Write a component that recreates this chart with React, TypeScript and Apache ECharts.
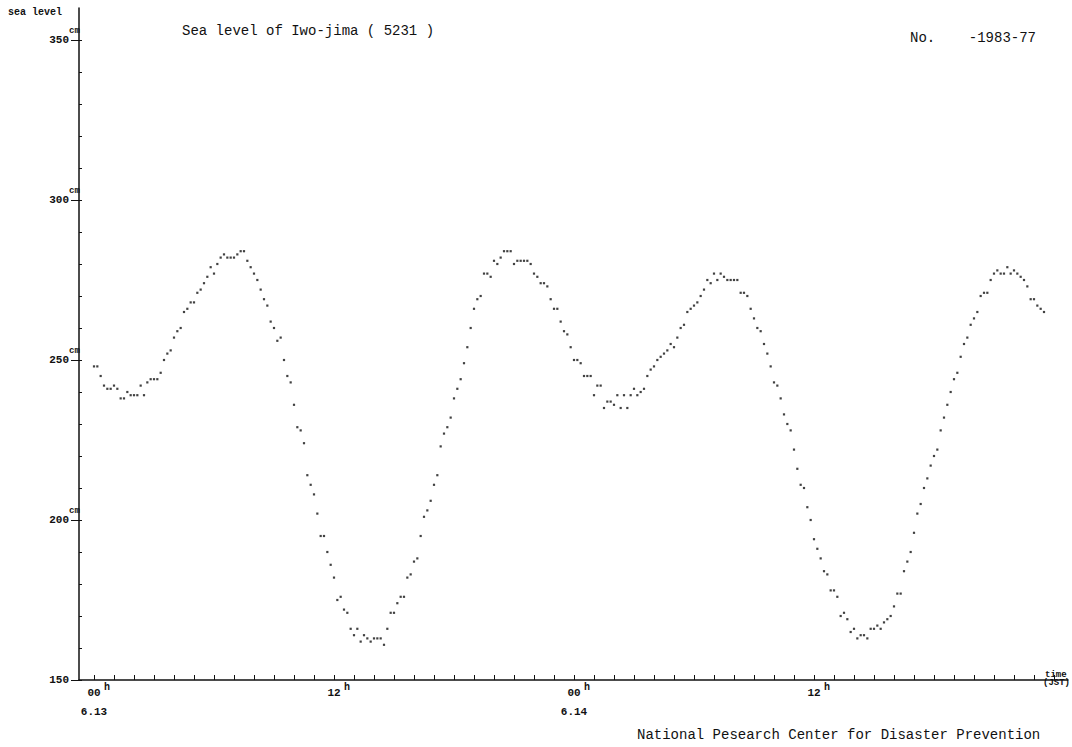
import React, { useEffect, useRef } from "react";
import * as echarts from "echarts";

// sampling step of the record: 10 minutes, expressed in hours
const STEP_HOURS = 1 / 6;

// sea level (cm) at 10-minute steps, 6.13 00h .. 11h50
const day1AM = [
  248, 248, 245, 242, 241, 241, 242, 241, 238, 238, 240, 239, 239, 239, 242, 239, 243, 244, 244, 244, 246, 250, 252, 253,
  257, 259, 260, 265, 266, 268, 268, 271, 272, 274, 276, 279, 277, 280, 282, 283, 282, 282, 282, 283, 284, 284, 281, 279,
  277, 275, 272, 269, 267, 262, 260, 256, 257, 250, 245, 243, 236, 229, 228, 224, 214, 211, 208, 202, 195, 195, 190, 186,
];
// 6.13 12h .. 23h50
const day1PM = [
  182, 175, 176, 172, 171, 166, 164, 166, 162, 164, 163, 162, 163, 163, 163, 161, 166, 171, 171, 174, 176, 176, 182, 183,
  187, 188, 195, 201, 203, 206, 211, 214, 223, 227, 229, 232, 238, 241, 244, 249, 254, 260, 266, 269, 270, 277, 277, 276,
  281, 280, 282, 284, 284, 284, 280, 281, 281, 281, 281, 280, 277, 276, 274, 274, 273, 269, 266, 266, 262, 259, 258, 254,
];
// 6.14 00h .. 11h50
const day2AM = [
  250, 250, 249, 245, 245, 245, 239, 242, 242, 235, 237, 237, 236, 239, 235, 239, 235, 239, 241, 239, 240, 241, 245, 247,
  248, 250, 251, 252, 253, 255, 254, 257, 260, 261, 265, 266, 267, 268, 270, 272, 275, 274, 277, 275, 277, 276, 275, 275,
  275, 275, 271, 271, 270, 266, 263, 260, 259, 255, 252, 248, 243, 242, 238, 233, 230, 228, 222, 216, 211, 210, 204, 200,
];
// 6.14 12h .. 23h30
const day2PM = [
  194, 191, 188, 184, 183, 178, 178, 176, 170, 171, 169, 165, 166, 163, 164, 164, 163, 166, 166, 167, 166, 168, 169, 170,
  173, 177, 177, 184, 187, 190, 196, 202, 205, 210, 213, 217, 220, 222, 228, 232, 236, 240, 244, 246, 251, 255, 257, 261,
  263, 265, 270, 271, 271, 275, 277, 278, 277, 277, 279, 277, 278, 277, 276, 275, 273, 269, 269, 267, 266, 265,
];

const yTickLabels = [150, 200, 250, 300, 350];
const yUnitTicks = [200, 250, 300, 350];
const xLabelHours = [0, 12, 24, 36];
const xLabelMain = ["00", "12", "00", "12"];
const xLabelDate = ["6.13", "", "6.14", ""];
const titleText = "Sea level of Iwo-jima ( 5231 )";
const recordText = "No.    -1983-77";
const creditText = "National Pesearch Center for Disaster Prevention";

export default function App() {
  const ref = useRef<HTMLDivElement>(null);
  useEffect(() => {
    const chart = echarts.init(ref.current!, null, { renderer: "svg" });
    const levels = [...day1AM, ...day1PM, ...day2AM, ...day2PM];
    const data = levels.map((v, i) => [i * STEP_HOURS, v]);
    const mono = "'Liberation Mono', 'DejaVu Sans Mono', monospace";
    const hourTicks: number[] = [];
    for (let h = 0; h <= 48; h++) hourTicks.push(h);
    const cmTicks: number[] = [];
    for (let v = 150; v <= 350; v += 10) cmTicks.push(v);

    chart.setOption({
      animation: false,
      backgroundColor: "#ffffff",
      grid: { left: 79, right: 4, top: 8, bottom: 67 },
      xAxis: [
        {
          type: "value",
          min: -0.75,
          max: 48.7,
          axisLine: { show: true, onZero: false, lineStyle: { color: "#111", width: 1.5 } },
          axisTick: { show: true, inside: true, length: 5, customValues: hourTicks, lineStyle: { color: "#111" } },
          axisLabel: {
            show: true,
            customValues: xLabelHours,
            margin: 3,
            fontFamily: mono,
            fontSize: 11,
            fontWeight: "bold",
            color: "#111",
            lineHeight: 19,
            formatter: (v: number) => {
              const k = xLabelHours.indexOf(v);
              if (k < 0) return "";
              return xLabelDate[k] ? `${xLabelMain[k]}\n${xLabelDate[k]}` : xLabelMain[k];
            },
          },
          splitLine: { show: false },
        },
      ],
      yAxis: [
        {
          type: "value",
          min: 150,
          max: 360,
          axisLine: { show: true, onZero: false, lineStyle: { color: "#111", width: 1.5 } },
          axisTick: { show: true, inside: false, length: 8, customValues: yTickLabels, lineStyle: { color: "#111" } },
          axisLabel: {
            show: true,
            customValues: yTickLabels,
            margin: 10,
            fontFamily: mono,
            fontSize: 11,
            fontWeight: "bold",
            color: "#111",
          },
          splitLine: { show: false },
        },
        {
          type: "value",
          min: 150,
          max: 360,
          position: "left",
          axisLine: { show: false, onZero: false },
          axisTick: { show: true, inside: true, length: 3, customValues: cmTicks, lineStyle: { color: "#111" } },
          axisLabel: { show: false },
          splitLine: { show: false },
        },
      ],
      series: [
        {
          type: "scatter",
          data,
          symbol: "rect",
          symbolSize: 2.2,
          itemStyle: { color: "#111" },
          silent: true,
        },
      ],
    });

    const graphics: any[] = [];
    yUnitTicks.forEach((v) => {
      const p = chart.convertToPixel({ yAxisIndex: 0 }, v) as number;
      graphics.push({
        type: "text",
        x: 69,
        y: p - 14,
        style: { text: "cm", fontFamily: mono, fontSize: 9, fontWeight: "bold", fill: "#111" },
      });
    });
    xLabelHours.forEach((h) => {
      const p = chart.convertToPixel({ xAxisIndex: 0 }, h) as number;
      graphics.push({
        type: "text",
        x: p + 10,
        y: 682,
        style: { text: "h", fontFamily: mono, fontSize: 10, fontWeight: "bold", fill: "#111" },
      });
    });
    graphics.push(
      { type: "text", x: 8, y: 7, style: { text: "sea level", fontFamily: mono, fontSize: 10, fontWeight: "bold", fill: "#111" } },
      { type: "text", x: 182, y: 24, style: { text: titleText, fontFamily: mono, fontSize: 14, fill: "#111" } },
      { type: "text", x: 910, y: 31, style: { text: recordText, fontFamily: mono, fontSize: 14, fill: "#111" } },
      { type: "text", x: 1045, y: 670, style: { text: "time", fontFamily: mono, fontSize: 9, fontWeight: "bold", fill: "#111" } },
      { type: "text", x: 1043, y: 678, style: { text: "(JST)", fontFamily: mono, fontSize: 9, fontWeight: "bold", fill: "#111" } },
      { type: "text", x: 637, y: 728, style: { text: creditText, fontFamily: mono, fontSize: 14, fill: "#111" } }
    );
    chart.setOption({ graphic: graphics });

    return () => chart.dispose();
  }, []);
  return <div ref={ref} style={{ position: "absolute", left: 0, top: 0, width: 1072, height: 747 }} />;
}
